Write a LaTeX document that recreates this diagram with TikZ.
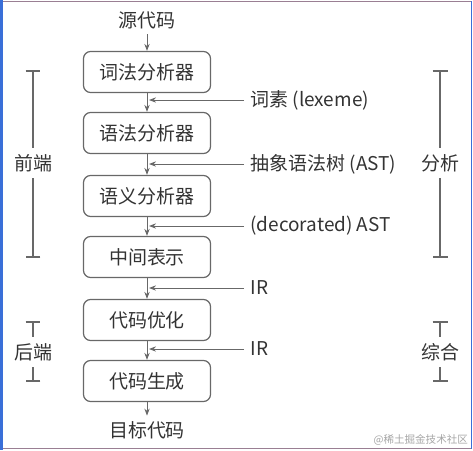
\documentclass[tikz,border=0pt]{standalone}
\usepackage{fontspec}
\setmainfont{Noto Sans CJK SC}
\usetikzlibrary{arrows.meta}
\definecolor{txtgray}{HTML}{333333}
\definecolor{linegray}{HTML}{686868}
\definecolor{framblue}{HTML}{3A6FD8}
\definecolor{framrose}{HTML}{9A7F93}

\begin{document}
\begin{tikzpicture}[
  x=0.02cm, y=-0.02cm,
  block/.style={rectangle, draw=linegray, line width=0.7pt, rounded corners=4pt,
                minimum width=2.54cm, minimum height=0.82cm, text=txtgray,
                font=\fontsize{10.8}{13}\selectfont},
  lbl/.style={text=txtgray, font=\fontsize{10.8}{13}\selectfont, inner sep=3.5pt},
  arr/.style={-{Stealth[length=4pt,width=3pt]}, linegray, line width=0.5pt},
  brk/.style={-{Bar[width=0.3cm]}, linegray, line width=1.2pt}
]
  \useasboundingbox (0,0) rectangle (473,450);

  % Cadre
  \draw[framrose, line width=0.4pt] (1,1) -- (471,1);
  \draw[framrose, line width=0.4pt] (1,448.5) -- (471,448.5);
  \draw[framblue, line width=0.4pt] (471,1) -- (471,448.5);
  \draw[framblue, line width=1.6pt] (1.5,0) -- (1.5,450);

  % Etapes
  \node[lbl, inner sep=3pt] (src) at (147,20) {源代码};
  \node[block] (lex) at (147,72) {词法分析器};
  \node[block] (syn) at (147,133) {语法分析器};
  \node[block] (sem) at (147,196) {语义分析器};
  \node[block] (irr) at (147,257) {中间表示};
  \node[block] (opt) at (147,320) {代码优化};
  \node[block] (gen) at (147,381) {代码生成};
  \node[lbl, inner sep=3pt] (tgt) at (147,430) {目标代码};

  \draw[arr] (src) -- (lex);
  \draw[arr] (lex) -- (syn);
  \draw[arr] (syn) -- (sem);
  \draw[arr] (sem) -- (irr);
  \draw[arr] (irr) -- (opt);
  \draw[arr] (opt) -- (gen);
  \draw[arr] (gen) -- (tgt);

  % Produits intermediaires
  \node[lbl, anchor=west] (lexeme) at (244,100) {词素 (lexeme)};
  \node[lbl, anchor=west] (ast) at (244,164) {抽象语法树 (AST)};
  \node[lbl, anchor=west] (dast) at (244,226) {(decorated) AST};
  \node[lbl, anchor=west] (ir1) at (244,288) {IR};
  \node[lbl, anchor=west] (ir2) at (244,349) {IR};

  \draw[arr] (lexeme.west) -- ([xshift=0.04cm]lexeme.west -| lex.south);
  \draw[arr] (ast.west) -- ([xshift=0.04cm]ast.west -| syn.south);
  \draw[arr] (dast.west) -- ([xshift=0.04cm]dast.west -| sem.south);
  \draw[arr] (ir1.west) -- ([xshift=0.04cm]ir1.west -| irr.south);
  \draw[arr] (ir2.west) -- ([xshift=0.04cm]ir2.west -| opt.south);

  % Phases
  \node[lbl] (front) at (33,163) {前端};
  \node[lbl] (back) at (33,352) {后端};
  \node[lbl] (ana) at (440,163) {分析};
  \node[lbl] (syns) at (440,352) {综合};

  \coordinate (frontT) at (33,70);
  \coordinate (frontB) at (33,258);
  \coordinate (backT) at (33,321);
  \coordinate (backB) at (33,382);
  \coordinate (anaT) at (440,70);
  \coordinate (anaB) at (440,258);
  \coordinate (synsT) at (440,321);
  \coordinate (synsB) at (440,382);

  \draw[brk] (front) -- (frontT);
  \draw[brk] (front) -- (frontB);
  \draw[brk] (back) -- (backT);
  \draw[brk] (back) -- (backB);
  \draw[brk] (ana) -- (anaT);
  \draw[brk] (ana) -- (anaB);
  \draw[brk] (syns) -- (synsT);
  \draw[brk] (syns) -- (synsB);

  % Filigrane
  \node[anchor=south east, inner sep=1pt, text=gray!70, font=\fontsize{6}{7}\selectfont]
    (wm) at (470,447) {@稀土掘金技术社区};
\end{tikzpicture}
\end{document}
